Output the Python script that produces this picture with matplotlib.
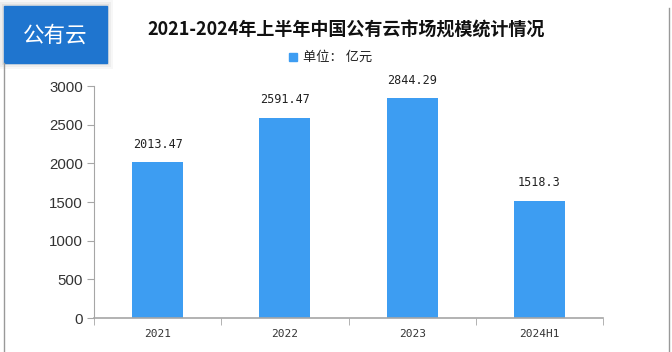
import matplotlib
matplotlib.use("Agg")
import matplotlib.pyplot as plt
from matplotlib.patches import Rectangle
from matplotlib.lines import Line2D

# 数据
categories = ["2021", "2022", "2023", "2024H1"]
values = [2013.47, 2591.47, 2844.29, 1518.3]
value_labels = ["2013.47", "2591.47", "2844.29", "1518.3"]
yticks = [0, 500, 1000, 1500, 2000, 2500, 3000]

title = "2021-2024年上半年中国公有云市场规模统计情况"
legend_label = "单位： 亿元"
badge = "公有云"

cjk = ["Noto Sans CJK SC", "DejaVu Sans"]
bar_color = "#3d9df2"
axis_color = "#a6a6a6"

fig = plt.figure(figsize=(6.72, 3.52), dpi=100)
ax = fig.add_axes([94 / 672, 1 - 318 / 352, 509 / 672, 232 / 352])

x = range(len(categories))
ax.bar(x, values, width=0.4, color=bar_color, zorder=2)
for i, v in enumerate(values):
    ax.annotate(value_labels[i], (i, v), xytext=(0, 8), textcoords="offset points",
                ha="center", va="bottom", fontsize=8.5, family="DejaVu Sans Mono",
                color="#222222")

ax.set_xlim(-0.5, len(categories) - 0.5)
ax.set_ylim(0, 3000)
ax.set_yticks(yticks)
ax.set_yticklabels([str(t) for t in yticks], family="Liberation Sans", fontsize=10.8,
                   color="#333333")
ax.set_xticks(x)
ax.set_xticklabels(categories, family="DejaVu Sans Mono", fontsize=8, color="#333333")
ax.set_xticks([i - 0.5 for i in range(len(categories) + 1)], minor=True)
ax.tick_params(axis="x", which="major", length=0, pad=8)
ax.tick_params(axis="x", which="minor", length=5, color=axis_color, direction="out")
ax.tick_params(axis="y", length=5, color=axis_color, pad=3)
for s in ["top", "right"]:
    ax.spines[s].set_visible(False)
ax.spines["left"].set_color(axis_color)
ax.spines["bottom"].set_color(axis_color)
ax.spines["bottom"].set_linewidth(1.2)

# 标题 & 图例
fig.text(346 / 672, 1 - 30 / 352, title, ha="center", va="center", fontsize=13,
         fontweight="bold", family=cjk, color="#111111")
fig.patches.append(Rectangle((289 / 672, 1 - 61 / 352), 8 / 672, 8 / 352,
                             transform=fig.transFigure, color=bar_color))
fig.text(303 / 672, 1 - 57 / 352, legend_label, ha="left", va="center", fontsize=9.5,
         family=cjk, color="#222222")

# 左上角标签（带阴影）
for k, a in [(6, 0.03), (4, 0.04), (2, 0.05)]:
    fig.patches.append(Rectangle(((4 - k) / 672, 1 - (63 + k) / 352), (103 + 2 * k) / 672,
                                 (57 + 2 * k) / 352, transform=fig.transFigure,
                                 color="black", alpha=a, zorder=0, lw=0))
fig.patches.append(Rectangle((4 / 672, 1 - 63 / 352), 103 / 672, 57 / 352,
                             transform=fig.transFigure, color="#1f75cf", zorder=1))
fig.text(55 / 672, 1 - 36 / 352, badge, ha="center", va="center", fontsize=15.5,
         family=cjk, color="white")

# 边框线
fig.lines.append(Line2D([4 / 672, 4 / 672], [0, 1 - 63 / 352], transform=fig.transFigure,
                        color="#999999", lw=1))
fig.lines.append(Line2D([669 / 672, 669 / 672], [0, 1 - 8 / 352], transform=fig.transFigure,
                        color="#999999", lw=1))

fig.savefig("out.png", dpi=100)
